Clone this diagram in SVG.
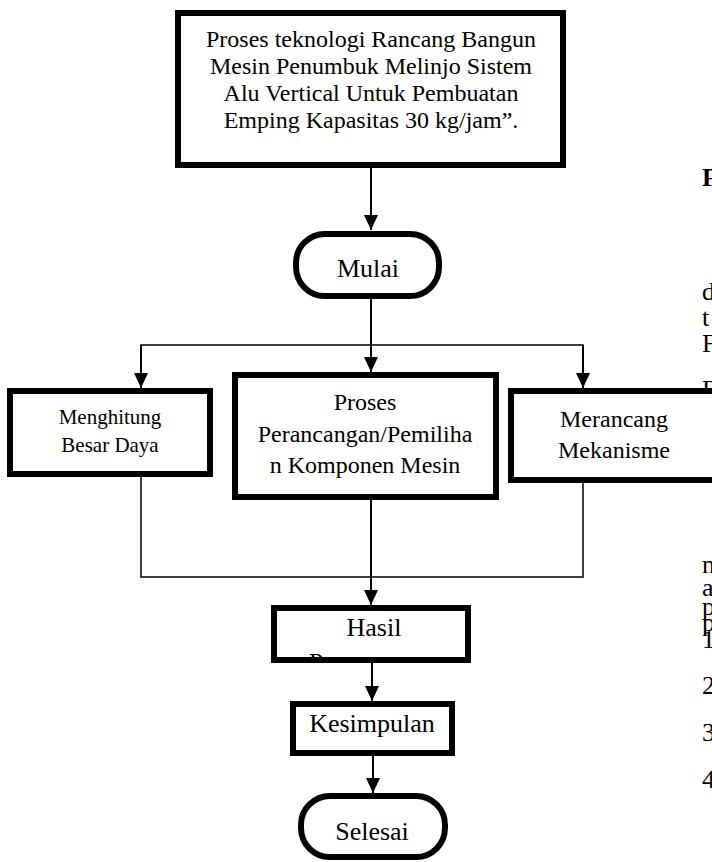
<svg xmlns="http://www.w3.org/2000/svg" width="712" height="862" viewBox="0 0 712 862">
<style>
text{font-family:"Liberation Serif","Times New Roman",serif;fill:#000;text-anchor:middle}
.box{fill:#fff;stroke:#000;stroke-width:6}
.c{fill:none;stroke:#000;stroke-width:2}
.t{fill:none;stroke:#000;stroke-width:1.5}
.body{text-anchor:start;font-size:26px}
</style>
<defs>
<marker id="ah" markerUnits="userSpaceOnUse" markerWidth="16" markerHeight="14" refX="15" refY="7" orient="auto">
<path d="M0,0 L15,7 L0,14 Z" fill="#000"/>
</marker>
<clipPath id="hasilClip"><rect x="274" y="608" width="194" height="52"/></clipPath>
</defs>
<g id="bodytext">
<text class="body" x="702" y="186" font-weight="bold">F</text>
<text class="body" x="702" y="300">d</text>
<text class="body" x="702" y="326">t</text>
<text class="body" x="702" y="352">F</text>
<text class="body" x="702" y="398">D</text>
<text class="body" x="702" y="573">n</text>
<text class="body" x="702" y="596">a</text>
<text class="body" x="702" y="615">p</text>
<text class="body" x="702" y="631">p</text>
<text class="body" x="702" y="648">1</text>
<text class="body" x="702" y="694">2</text>
<text class="body" x="702" y="741">3</text>
<text class="body" x="702" y="788">4</text>
</g>
<g id="connectors">
<line class="c" x1="371" y1="168" x2="371" y2="230" marker-end="url(#ah)"/>
<line class="c" x1="371" y1="299" x2="371" y2="372" marker-end="url(#ah)"/>
<polyline class="t" points="141,388 141,345 583,345 583,388"/>
<line class="c" x1="141" y1="345" x2="141" y2="388" marker-end="url(#ah)"/>
<line class="c" x1="583" y1="345" x2="583" y2="388" marker-end="url(#ah)"/>
<polyline class="t" points="141,477 141,577 583,577 583,483"/>
<line class="c" x1="371" y1="500" x2="371" y2="605" marker-end="url(#ah)"/>
<line class="c" x1="372" y1="663" x2="372" y2="701" marker-end="url(#ah)"/>
<line class="c" x1="373" y1="756" x2="373" y2="793" marker-end="url(#ah)"/>
</g>
<g id="judul">
<rect class="box" x="178" y="13" width="385" height="152"/>
<text font-size="24" x="371" y="47">Proses teknologi Rancang Bangun</text>
<text font-size="24" x="371" y="74">Mesin Penumbuk Melinjo Sistem</text>
<text font-size="24" x="371" y="101">Alu Vertical Untuk Pembuatan</text>
<text font-size="24" x="371" y="128">Emping Kapasitas 30 kg/jam”.</text>
</g>
<g id="mulai">
<rect class="box" x="296" y="234" width="143" height="62" rx="29"/>
<text font-size="26" x="368" y="277">Mulai</text>
</g>
<g id="menghitung">
<rect class="box" x="10" y="391" width="200" height="83"/>
<text font-size="21" x="110" y="424">Menghitung</text>
<text font-size="21" x="110" y="452">Besar Daya</text>
</g>
<g id="perancangan">
<rect class="box" x="235" y="375" width="261" height="122"/>
<text font-size="24" x="365" y="410">Proses</text>
<text font-size="24" x="365" y="442">Perancangan/Pemiliha</text>
<text font-size="24" x="365" y="473">n Komponen Mesin</text>
</g>
<g id="merancang">
<rect class="box" x="511" y="391" width="206" height="89"/>
<text font-size="24" x="614" y="427">Merancang</text>
<text font-size="24" x="614" y="458">Mekanisme</text>
</g>
<g id="hasil">
<rect class="box" x="274" y="608" width="194" height="52"/>
<text font-size="26" x="374" y="636">Hasil</text>
<g clip-path="url(#hasilClip)"><text font-size="26" x="316" y="671">P</text></g>
</g>
<g id="kesimpulan">
<rect class="box" x="293" y="704" width="159" height="49"/>
<text font-size="26" x="372" y="732">Kesimpulan</text>
</g>
<g id="selesai">
<rect class="box" x="301" y="796" width="144" height="61" rx="29"/>
<text font-size="26" x="372" y="840">Selesai</text>
</g>
</svg>
